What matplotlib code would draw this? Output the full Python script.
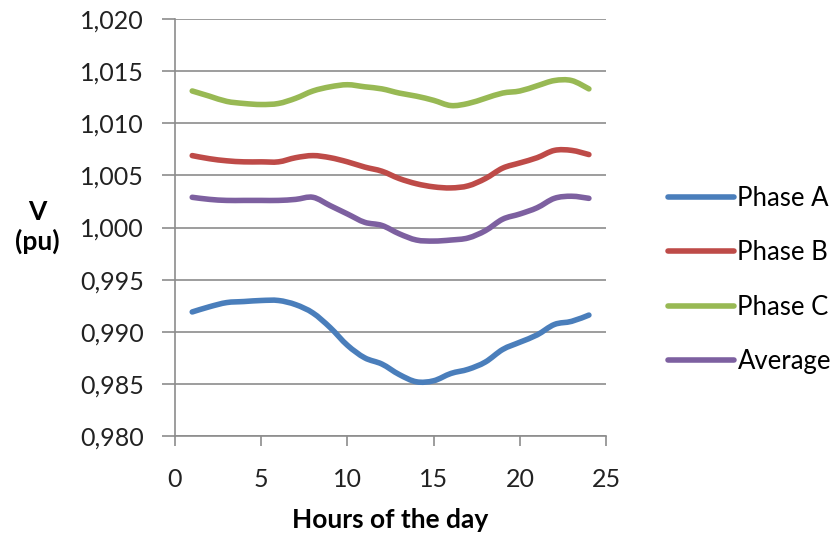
import matplotlib
matplotlib.use("Agg")
import matplotlib.pyplot as plt
from matplotlib.path import Path
from matplotlib.patches import PathPatch
from matplotlib.lines import Line2D
from matplotlib.ticker import FuncFormatter, MultipleLocator

hours = list(range(1, 25))

phase_a = [0.9919, 0.9924, 0.9928, 0.9929, 0.9930, 0.9930, 0.9926, 0.9918,
           0.9904, 0.9887, 0.9875, 0.9869, 0.9859, 0.9852, 0.9853, 0.9860,
           0.9864, 0.9871, 0.9883, 0.9890, 0.9897, 0.9907, 0.9910, 0.9916]
phase_b = [1.0069, 1.0066, 1.0064, 1.0063, 1.0063, 1.0063, 1.0067, 1.0069,
           1.0067, 1.0063, 1.0058, 1.0054, 1.0047, 1.0042, 1.0039, 1.0038,
           1.0040, 1.0047, 1.0057, 1.0062, 1.0067, 1.0074, 1.0074, 1.0070]
phase_c = [1.0131, 1.0126, 1.0121, 1.0119, 1.0118, 1.0119, 1.0124, 1.0131,
           1.0135, 1.0137, 1.0135, 1.0133, 1.0129, 1.0126, 1.0122, 1.0117,
           1.0119, 1.0124, 1.0129, 1.0131, 1.0136, 1.0141, 1.0141, 1.0133]
average = [1.0029, 1.0027, 1.0026, 1.0026, 1.0026, 1.0026, 1.0027, 1.0029,
           1.0021, 1.0013, 1.0005, 1.0002, 0.9994, 0.9988, 0.9987, 0.9988,
           0.9990, 0.9997, 1.0008, 1.0013, 1.0019, 1.0028, 1.0030, 1.0028]

series = [
    ("Phase A", phase_a, "#4A7EBB"),
    ("Phase B", phase_b, "#BE4B48"),
    ("Phase C", phase_c, "#98B954"),
    ("Average", average, "#7D60A0"),
]


def smooth_path(xs, ys):
    # Excel-style smoothed line: Catmull-Rom segments as cubic Beziers
    verts = [(xs[0], ys[0])]
    codes = [Path.MOVETO]
    n = len(xs)
    for i in range(n - 1):
        x0, y0 = (xs[i - 1], ys[i - 1]) if i > 0 else (xs[i], ys[i])
        x1, y1 = xs[i], ys[i]
        x2, y2 = xs[i + 1], ys[i + 1]
        x3, y3 = (xs[i + 2], ys[i + 2]) if i + 2 < n else (x2, y2)
        verts += [(x1 + (x2 - x0) / 6, y1 + (y2 - y0) / 6),
                  (x2 - (x3 - x1) / 6, y2 - (y3 - y1) / 6),
                  (x2, y2)]
        codes += [Path.CURVE4] * 3
    return Path(verts, codes)


plt.rcParams["font.family"] = ["Lato", "DejaVu Sans"]

fig = plt.figure(figsize=(8.34, 5.38), dpi=100)
ax = fig.add_axes([0.2098, 0.1896, 0.517, 0.775])

handles = []
for name, vals, col in series:
    ax.add_patch(PathPatch(smooth_path(hours, vals), fill=False, edgecolor=col,
                           lw=4, capstyle="round", joinstyle="round"))
    handles.append(Line2D([], [], color=col, lw=4, solid_capstyle="round", label=name))

ax.set_xlim(0, 25)
ax.set_ylim(0.980, 1.020)
ax.xaxis.set_major_locator(MultipleLocator(5))
ax.yaxis.set_major_locator(MultipleLocator(0.005))
ax.yaxis.set_major_formatter(FuncFormatter(lambda v, p: f"{v:.3f}".replace(".", ",")))

ax.grid(axis="y", color="#8c8c8c", lw=1.2)
ax.set_axisbelow(True)
for s in ["top", "right"]:
    ax.spines[s].set_visible(False)
for s in ["left", "bottom"]:
    ax.spines[s].set_color("#8c8c8c")
    ax.spines[s].set_linewidth(1.2)
ax.tick_params(axis="y", direction="out", length=9.5, width=1.2, color="#8c8c8c",
               labelsize=18, pad=13, labelcolor="#222222")
ax.tick_params(axis="x", direction="out", length=7, width=1.2, color="#8c8c8c",
               labelsize=18, pad=16, labelcolor="#222222")

fig.text(0.045, 0.578, "V\n(pu)", ha="center", va="center", fontsize=19,
         fontweight="bold", linespacing=1.2)
fig.text(0.468, 0.033, "Hours of the day", ha="center", va="center", fontsize=19,
         fontweight="bold")

leg = ax.legend(handles=handles, loc="center left", bbox_to_anchor=(1.09, 0.374),
                frameon=False, fontsize=18.5, handlelength=2.55, handletextpad=0.15,
                labelspacing=1.15)

fig.savefig("out.png", dpi=100)
